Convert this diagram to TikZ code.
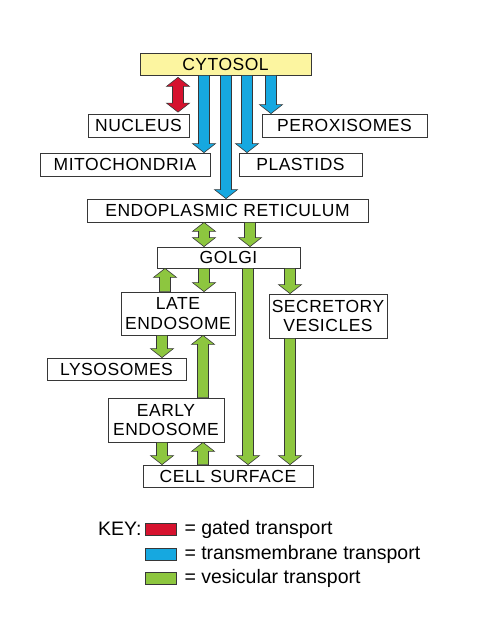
\documentclass[tikz,border=0pt]{standalone}
\usepackage{fontspec}
\setmainfont{Liberation Sans}
\newfontfamily\boxfam{Liberation Sans}[LetterSpace=3]
\usepackage{xcolor}
\usetikzlibrary{calc,positioning}

\definecolor{gatedred}{RGB}{214,18,46}
\definecolor{transblue}{RGB}{22,168,224}
\definecolor{vesgreen}{RGB}{141,198,63}
\definecolor{cytyellow}{RGB}{252,245,160}
\definecolor{edgegray}{RGB}{55,55,55}

\newcommand{\boxfont}{\boxfam\fontsize{17.5}{19.5}\selectfont}
\newcommand{\keyfont}{\fontsize{19.5}{21}\selectfont}

% one-headed fat arrow: fill, tail, tip
\newcommand{\onearrow}[3]{%
\filldraw[fill=#1,draw=edgegray,line width=0.6pt]
let \p1=(#2), \p2=(#3), \n2={\y2-sign(\y2-\y1)*9} in
(\x1-5.5pt,\y1)--(\x1-5.5pt,\n2*1pt)--(\x1-11.5pt,\n2*1pt)--(\x1,\y2)
--(\x1+11.5pt,\n2*1pt)--(\x1+5.5pt,\n2*1pt)--(\x1+5.5pt,\y1)--cycle;}
% two-headed fat arrow
\newcommand{\twoarrow}[3]{%
\filldraw[fill=#1,draw=edgegray,line width=0.6pt]
let \p1=(#2), \p2=(#3), \n1={\y1+sign(\y2-\y1)*9}, \n2={\y2-sign(\y2-\y1)*9} in
(\x1,\y1)--(\x1+11.5pt,\n1*1pt)--(\x1+5.5pt,\n1*1pt)--(\x1+5.5pt,\n2*1pt)
--(\x1+11.5pt,\n2*1pt)--(\x1,\y2)--(\x1-11.5pt,\n2*1pt)--(\x1-5.5pt,\n2*1pt)
--(\x1-5.5pt,\n1*1pt)--(\x1-11.5pt,\n1*1pt)--cycle;}

\begin{document}
\begin{tikzpicture}[x=1pt,y=-1pt,
box/.style={draw=edgegray,line width=0.8pt,fill=white,inner sep=0pt,align=center,font=\boxfont},
swatch/.style={draw=edgegray,line width=0.6pt,minimum width=31pt,minimum height=12pt,inner sep=0pt}]
\useasboundingbox (0,0) rectangle (478,618);

\node[box,fill=cytyellow,minimum width=171pt,minimum height=22pt] (cytosol) at (225.5,64) {CYTOSOL};
\node[box,minimum width=101pt,minimum height=23pt] (nucleus) at (138.5,125.5) {NUCLEUS};
\node[box,minimum width=165pt,minimum height=23pt] (perox) at (344.5,125.5) {PEROXISOMES};
\node[box,minimum width=170pt,minimum height=23pt] (mito) at (125,164.5) {MITOCHONDRIA};
\node[box,minimum width=123pt,minimum height=23pt] (plastids) at (300.5,164.5) {PLASTIDS};
\node[box,minimum width=281pt,minimum height=23pt] (er) at (227.5,210.5) {ENDOPLASMIC RETICULUM};
\node[box,minimum width=143pt,minimum height=21pt] (golgi) at (228.5,257.5) {GOLGI};
\node[box,minimum width=114pt,minimum height=43pt] (late) at (178,313.5) {LATE\\ENDOSOME};
\node[box,minimum width=118pt,minimum height=44pt] (secretory) at (328,316) {SECRETORY\\VESICLES};
\node[box,minimum width=139pt,minimum height=22pt] (lyso) at (116.5,369) {LYSOSOMES};
\node[box,minimum width=116pt,minimum height=44pt] (early) at (166,420) {EARLY\\ENDOSOME};
\node[box,minimum width=170pt,minimum height=22pt] (surface) at (228,476) {CELL SURFACE};

\twoarrow{gatedred}{$(178,0 |- cytosol.south)+(0,2)$}{$(178,0 |- nucleus.north)+(0,-1.5)$}
\onearrow{transblue}{204,0 |- cytosol.south}{204,0 |- mito.north}
\onearrow{transblue}{226,0 |- cytosol.south}{226,0 |- er.north}
\onearrow{transblue}{247,0 |- cytosol.south}{247,0 |- plastids.north}
\onearrow{transblue}{271,0 |- cytosol.south}{271,0 |- perox.north}

\twoarrow{vesgreen}{204,0 |- er.south}{204,0 |- golgi.north}
\onearrow{vesgreen}{250,0 |- er.south}{250,0 |- golgi.north}
\onearrow{vesgreen}{204,0 |- golgi.south}{204,0 |- late.north}
\onearrow{vesgreen}{165,0 |- late.north}{165,0 |- golgi.south}
\onearrow{vesgreen}{248,0 |- golgi.south}{248,0 |- surface.north}
\onearrow{vesgreen}{290,0 |- golgi.south}{290,0 |- secretory.north}
\onearrow{vesgreen}{290,0 |- secretory.south}{290,0 |- surface.north}
\onearrow{vesgreen}{162,0 |- late.south}{162,0 |- lyso.north}
\onearrow{vesgreen}{203,0 |- early.north}{203,0 |- late.south}
\onearrow{vesgreen}{162,0 |- early.south}{162,0 |- surface.north}
\onearrow{vesgreen}{203,0 |- surface.north}{203,0 |- early.south}

\node[swatch,fill=gatedred] (gated) at (160.5,529) {};
\node[swatch,fill=transblue] (transm) at (160.5,554) {};
\node[swatch,fill=vesgreen] (vesic) at (160.5,578) {};
\node[font=\keyfont,left=3pt of gated,inner sep=0pt] (key) {KEY:};
\node[font=\keyfont,right=8pt of gated,inner sep=0pt] (gatedtxt) {= gated transport};
\node[font=\keyfont,right=8pt of transm,inner sep=0pt] (transmtxt) {= transmembrane transport};
\node[font=\keyfont,right=8pt of vesic,inner sep=0pt] (vesictxt) {= vesicular transport};
\end{tikzpicture}
\end{document}
